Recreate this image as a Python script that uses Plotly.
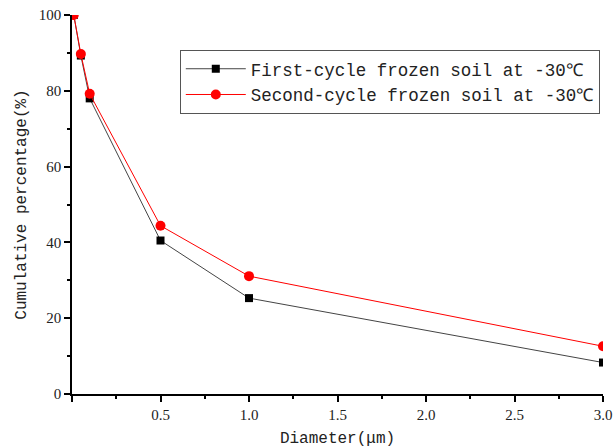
import plotly.graph_objects as go

diameter = [0.01, 0.05, 0.1, 0.5, 1.0, 3.0]
first_cycle = [100, 89.3, 78.0, 40.5, 25.3, 8.3]
second_cycle = [100, 89.7, 79.2, 44.4, 31.1, 12.6]
series_names = ["First-cycle frozen soil at -30\u2103", "Second-cycle frozen soil at -30\u2103"]
x_tickvals = [0, 0.5, 1.0, 1.5, 2.0, 2.5, 3.0]
x_ticktext = ["", "0.5", "1.0", "1.5", "2.0", "2.5", "3.0"]
x_minor = [0.25, 0.75, 1.25, 1.75, 2.25, 2.75]

fig = go.Figure()
fig.add_trace(go.Scatter(
    x=diameter, y=first_cycle, name=series_names[0], mode="lines+markers",
    line=dict(color="#444444", width=1),
    marker=dict(symbol="square", size=8, color="black"),
))
fig.add_trace(go.Scatter(
    x=diameter, y=second_cycle, name=series_names[1], mode="lines+markers",
    line=dict(color="red", width=1),
    marker=dict(symbol="circle", size=10, color="red"),
))

fig.update_layout(
    width=616, height=448,
    margin=dict(l=72, r=13, t=15, b=54),
    plot_bgcolor="white", paper_bgcolor="white",
    showlegend=True,
    legend=dict(
        x=0.203, y=0.908, xanchor="left", yanchor="top",
        bgcolor="white", bordercolor="#555555", borderwidth=1,
        font=dict(family="Liberation Mono", size=17.5, color="#222222"),
        tracegroupgap=0, itemwidth=60,
    ),
)
fig.update_xaxes(
    range=[0, 3.0], tickmode="array", tickvals=x_tickvals, ticktext=x_ticktext,
    ticks="outside", ticklen=6, tickwidth=1.5, tickcolor="black",
    showline=True, linecolor="black", linewidth=1.5, mirror=False,
    showgrid=False, zeroline=False, automargin=False,
    tickfont=dict(family="Liberation Serif", size=15, color="#222222"),
    minor=dict(tickvals=x_minor, ticks="outside", ticklen=3, tickwidth=1.5, tickcolor="black"),
    title=dict(text="Diameter(\u03bcm)", font=dict(family="Liberation Mono", size=16, color="#222222"), standoff=12),
)
fig.update_yaxes(
    range=[0, 100], tickmode="linear", tick0=0, dtick=20,
    ticks="outside", ticklen=6, tickwidth=1.5, tickcolor="black",
    showline=True, linecolor="black", linewidth=1.5, mirror=False,
    showgrid=False, zeroline=False, automargin=False,
    tickfont=dict(family="Liberation Serif", size=15, color="#222222"),
    minor=dict(dtick=10, ticks="outside", ticklen=3, tickwidth=1.5, tickcolor="black"),
    title=dict(text="Cumulative percentage(%)", font=dict(family="Liberation Mono", size=16, color="#222222"), standoff=8),
)

fig.write_html("out.html")
